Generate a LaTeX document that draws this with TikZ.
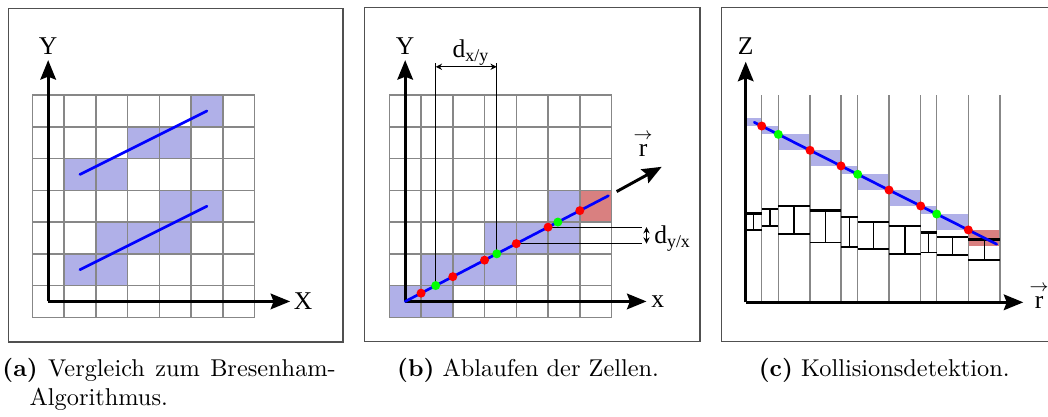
\documentclass[tikz,border=0pt]{standalone}
\usepackage{fontspec}
\newfontfamily\figfont{Liberation Serif}
\usetikzlibrary{calc, positioning}
\usetikzlibrary{arrows.meta}

\definecolor{cellblue}{RGB}{176,176,232}
\definecolor{cellred}{RGB}{217,128,128}
\definecolor{gridgray}{RGB}{135,135,135}
\definecolor{framegray}{RGB}{80,80,80}
\definecolor{dotgreen}{RGB}{0,255,0}

\newcommand{\rvec}{$\stackrel{\rightarrow}{\mbox{r}}$}

\begin{document}
\begin{tikzpicture}[x=0.411pt, y=-0.411pt,
  axis/.style={-{Stealth[length=8pt, width=6.4pt, inset=1.2pt]}, line width=1.2pt},
  panel/.style={draw=framegray, line width=0.6pt},
  grid line/.style={draw=gridgray, line width=0.6pt},
  ray/.style={blue, line width=1.1pt, line cap=round},
  thin line/.style={line width=0.45pt},
  dim/.style={{Stealth[length=2.6pt, width=2.6pt]}-{Stealth[length=2.6pt, width=2.6pt]}, line width=0.45pt},
  lbl/.style={font=\figfont\fontsize{10.5}{12}\selectfont, inner sep=0pt},
  captext/.style={font=\normalsize, inner sep=0pt},
]
\useasboundingbox (0,0) rectangle (1048,416);

% frames
\draw[panel] (8.3,8.3) rectangle (343,342);
\draw[panel] (364.7,7.7) rectangle (700,341.7);
\draw[panel] (721.7,7.7) rectangle (1060,341.7);

% (a) Bresenham
\begin{scope}[shift={(32.3,317.3)}, x=13.05pt, y=13.05pt]
  \foreach \c/\r in {5/6, 3/5, 4/5, 1/4, 2/4, 4/3, 5/3, 2/2, 3/2, 4/2, 1/1, 2/1}
    \fill[cellblue] (\c,\r) rectangle ++(1,1);
  \foreach \i in {0,...,7} {
    \draw[grid line] (\i,0) -- (\i,7);
    \draw[grid line] (0,\i) -- (7,\i);
  }
  \coordinate (Oa) at (0.5,0.5);
  \coordinate (Xa) at (8.12,0.5);
  \coordinate (Ya) at (0.5,8.1);
  \draw[axis] (Oa) -- (Xa);
  \draw[axis] (Oa) -- (Ya);
  \draw[ray] (1.5,4.5) -- (5.5,6.5);
  \draw[ray] (1.5,1.5) -- (5.5,3.5);
\end{scope}
\node[lbl, above=2pt of Ya] (ylabA) {Y};
\node[lbl, right=1.3pt of Xa] (xlabA) {X};

% (b) cells along the ray
\begin{scope}[shift={(389.3,317.3)}, x=13.05pt, y=13.05pt]
  \pgfmathsetmacro{\k}{0.52}
  \foreach \c/\r in {0/0, 1/0, 1/1, 2/1, 3/1, 3/2, 4/2, 5/2, 5/3}
    \fill[cellblue] (\c,\r) rectangle ++(1,1);
  \fill[cellred] (6,3) rectangle ++(1,1);
  \foreach \i in {0,...,7} {
    \draw[grid line] (\i,0) -- (\i,7);
    \draw[grid line] (0,\i) -- (7,\i);
  }
  \coordinate (Ob) at (0.5,0.5);
  \coordinate (Xb) at (8.1,0.5);
  \coordinate (Yb) at (0.5,8.1);
  \coordinate (Eb) at (6.9,{0.5+\k*6.4});
  \foreach \i in {1,...,6}
    \coordinate (r\i) at (\i,{0.5+\k*(\i-0.5)});
  \foreach \j in {1,2,3}
    \coordinate (g\j) at ({0.5+(\j-0.5)/\k},\j);
  % d_x/y
  \draw[thin line] (g1) -- (g1 |- 0,8);
  \draw[thin line] (g2) -- (g2 |- 0,8);
  \draw[dim] (g1 |- 0,7.89) -- (g2 |- 0,7.89);
  % d_y/x
  \draw[thin line] (r4) -- (r4 -| 7.95,0);
  \draw[thin line] (r5) -- (r5 -| 7.95,0);
  \draw[dim] (r4 -| 8.1,0) -- (r5 -| 8.1,0);
  \draw[axis] (Ob) -- (Xb);
  \draw[axis] (Ob) -- (Yb);
  \draw[ray] (Ob) -- (Eb);
  \foreach \i in {1,...,6}
    \fill[red] (r\i) circle[radius=1.85pt];
  \foreach \j in {1,2,3}
    \fill[dotgreen] (g\j) circle[radius=1.85pt];
  \coordinate (Rs) at (7.16,3.96);
  \coordinate (Re) at (8.58,4.74);
  \draw[axis] (Rs) -- (Re);
  \node[lbl, anchor=base, xshift=2pt] (dxy) at ($(g1 |- 0,8.19)!0.5!(g2 |- 0,8.19)$) {d\textsubscript{x/y}};
  \node[lbl, anchor=base west] (dyx) at (r4 -| 8.33,0) {d\textsubscript{y/x}};
  \node[lbl, anchor=base] (rlabB) at (7.99,5.06) {\rvec};
\end{scope}
\node[lbl, above=2pt of Yb] (ylabB) {Y};
\node[lbl, right=1.8pt of Xb] (xlabB) {x};

% (c) collision along r
\pgfmathsetmacro{\slope}{0.503}
\foreach \xl/\xr in {745.7/761.7, 761.7/778.3, 778.3/810, 810/841, 841/857.7,
                     857.7/889, 889/920.7, 920.7/936.7, 936.7/968.3}
  \fill[cellblue] (\xl,{126+\slope*(\xl-761.7)}) rectangle (\xr,{126+\slope*(\xr-761.7)});
\fill[cellred] (968.3,230) rectangle (1000,246);
\foreach \x in {761.7, 778.3, 810, 841, 857.7, 889, 920.7, 936.7, 968.3, 1000}
  \draw[grid line] (\x,95) -- (\x,302.3);
\foreach \xl/\xr/\zt/\zb in {745.7/761.7/213.3/230, 761.7/778.3/208.7/226,
    778.3/810/206/234, 810/841/210.3/242.7, 841/857.7/216.7/247,
    857.7/889/222/249, 889/920.7/226/254, 920.7/936.7/232.3/252.3,
    936.7/968.3/237/255, 968.3/1000/239.3/260} {
  \draw[line width=1pt] (\xl,\zt) -- (\xr,\zt);
  \draw[line width=0.55pt] (\xl,\zb) -- (\xr,\zb);
  \draw[line width=0.55pt] ({(\xl+\xr)/2},\zt) -- ({(\xl+\xr)/2},\zb);
}
\coordinate (Oc) at (745.7,302.3);
\coordinate (Rc) at (1023.3,302.3);
\coordinate (Zc) at (745.7,61.7);
\draw[axis] (Oc) -- (Rc);
\draw[axis] (Oc) -- (Zc);
\draw[ray] (754.3,{126+\slope*(754.3-761.7)}) -- (996.7,{126+\slope*(996.7-761.7)});
\foreach \x in {761.7, 810, 841, 889, 920.7, 968.3}
  \fill[red] (\x,{126+\slope*(\x-761.7)}) circle[radius=1.85pt];
\foreach \x in {778.3, 857.7, 936.7}
  \fill[dotgreen] (\x,{126+\slope*(\x-761.7)}) circle[radius=1.85pt];
\node[lbl, above=2.7pt of Zc] (zlabC) {Z};
\node[lbl, anchor=base west] (rlabC) at ([xshift=2.3pt, yshift=-2.5pt]Rc) {\rvec};

% captions
\node[captext, anchor=base west] (capA) at (2,376.7)
  {\parbox[t]{137pt}{\hangindent=11.2pt\hangafter=1\noindent\textbf{(a)} Vergleich zum Bresenham-Algorithmus.}};
\node[captext, anchor=base west] (capB) at (396.7,376.7) {\textbf{(b)} Ablaufen der Zellen.};
\node[captext, anchor=base west] (capC) at (758.3,376.7) {\textbf{(c)} Kollisionsdetektion.};
\end{tikzpicture}
\end{document}
